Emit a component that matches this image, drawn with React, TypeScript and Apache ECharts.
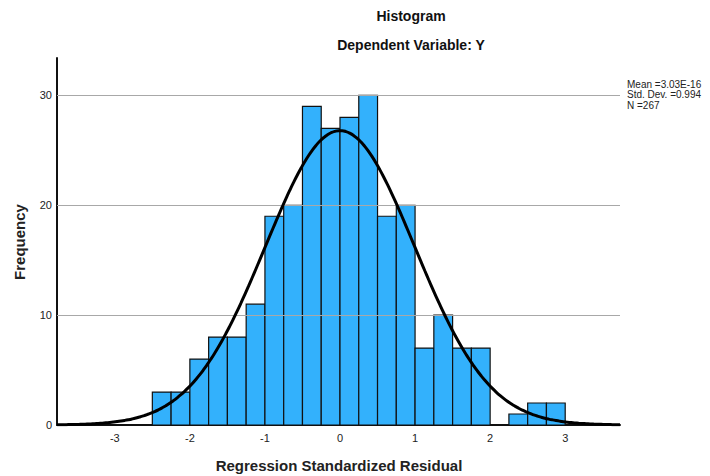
import React, { useEffect, useRef } from "react";
import * as echarts from "echarts";

const binStarts = [-2.5, -2.25, -2.0, -1.75, -1.5, -1.25, -1.0, -0.75, -0.5, -0.25, 0, 0.25, 0.5, 0.75, 1.0, 1.25, 1.5, 1.75, 2.0, 2.25, 2.5, 2.75];
const counts = [3, 3, 6, 8, 8, 11, 19, 20, 29, 27, 28, 30, 19, 20, 7, 10, 7, 7, 0, 1, 2, 2];
const binWidth = 0.25;
const xTickValues = [-3, -2, -1, 0, 1, 2, 3];
const yTickValues = [0, 10, 20, 30];
const gridValues = [10, 20, 30];
const mean = 3.03e-16;
const stdDev = 0.994;
const nObs = 267;
const legendLines = ["Mean =3.03E-16", "Std. Dev. =0.994", "N =267"];
const xMin = -3.77;
const xMax = 3.73;

const FONT = "'Liberation Sans', Arial, sans-serif";

export default function App() {
  const ref = useRef<HTMLDivElement>(null);
  useEffect(() => {
    if (!ref.current) return;
    const chart = echarts.init(ref.current, null, { renderer: "svg" });

    const barData = binStarts.map((s, i) => [s, s + binWidth, counts[i]]);
    const curve: number[][] = [];
    const peak = (nObs * binWidth) / (stdDev * Math.sqrt(2 * Math.PI));
    for (let k = 0; k <= 150; k++) {
      const x = xMin + ((xMax - xMin) * k) / 150;
      const z = (x - mean) / stdDev;
      curve.push([x, peak * Math.exp(-0.5 * z * z)]);
    }

    chart.setOption({
      animation: false,
      grid: { left: 57, right: 90, top: 58, bottom: 51, containLabel: false },
      xAxis: {
        type: "value",
        min: xMin,
        max: xMax,
        axisLine: { show: true, onZero: false, lineStyle: { color: "#111", width: 2 } },
        axisTick: { show: false },
        splitLine: { show: false },
        axisLabel: {
          customValues: xTickValues,
          color: "#222",
          fontFamily: FONT,
          fontSize: 11,
          margin: 7,
        },
      },
      yAxis: {
        type: "value",
        min: 0,
        max: 33.4,
        axisLine: { show: true, onZero: false, lineStyle: { color: "#111", width: 2 } },
        axisTick: { show: false },
        splitLine: { show: false },
        axisLabel: {
          customValues: yTickValues,
          color: "#222",
          fontFamily: FONT,
          fontSize: 11,
          margin: 5,
        },
      },
      series: [
        {
          type: "line",
          data: [],
          markLine: {
            silent: true,
            symbol: "none",
            label: { show: false },
            lineStyle: { color: "#a8a8a8", width: 1, type: "solid" },
            data: gridValues.map((v) => ({ yAxis: v })),
          },
        },
        {
          type: "custom",
          data: barData,
          encode: { x: [0, 1], y: 2 },
          renderItem: (params: any, api: any) => {
            const p0 = api.coord([api.value(0), api.value(2)]);
            const p1 = api.coord([api.value(1), 0]);
            return {
              type: "rect",
              shape: { x: p0[0], y: p0[1], width: p1[0] - p0[0], height: p1[1] - p0[1] },
              style: { fill: "#33b1fc", stroke: "#111", lineWidth: 1.2 },
            };
          },
        },
        {
          type: "line",
          data: curve,
          showSymbol: false,
          smooth: true,
          lineStyle: { color: "#000", width: 3 },
          z: 5,
        },
      ],
      graphic: [
        {
          type: "text",
          x: 411,
          y: 16,
          style: { text: "Histogram", font: `bold 14px ${FONT}`, fill: "#111", textAlign: "center", textVerticalAlign: "middle" },
        },
        {
          type: "text",
          x: 411,
          y: 45,
          style: { text: "Dependent Variable: Y", font: `bold 14px ${FONT}`, fill: "#111", textAlign: "center", textVerticalAlign: "middle" },
        },
        {
          type: "text",
          x: 339,
          y: 465,
          style: { text: "Regression Standardized Residual", font: `bold 15px ${FONT}`, fill: "#222", textAlign: "center", textVerticalAlign: "middle" },
        },
        {
          type: "text",
          x: 19,
          y: 242,
          rotation: Math.PI / 2,
          style: { text: "Frequency", font: `bold 15px ${FONT}`, fill: "#222", textAlign: "center", textVerticalAlign: "middle" },
        },
        ...legendLines.map((t, i) => ({
          type: "text",
          x: 627,
          y: 84 + i * 10.5,
          style: { text: t, font: `10px ${FONT}`, fill: "#222", textAlign: "left", textVerticalAlign: "middle" },
        })),
      ],
    });
    return () => chart.dispose();
  }, []);
  return <div ref={ref} style={{ width: 710, height: 476, position: "absolute", left: 0, top: 0 }} />;
}
